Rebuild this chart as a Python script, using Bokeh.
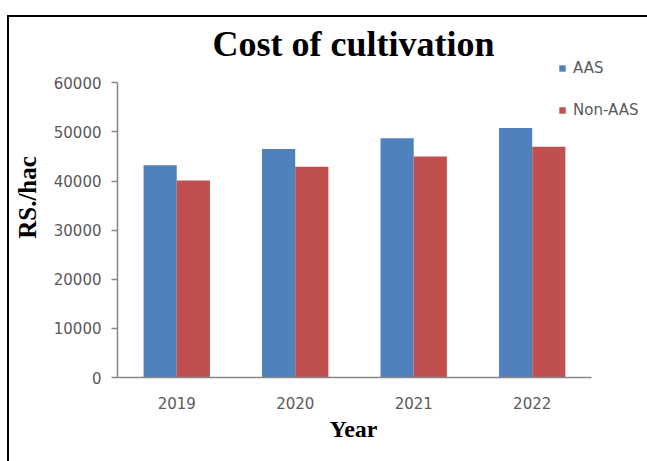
from bokeh.plotting import figure
from bokeh.models import (ColumnDataSource, Range1d, FixedTicker, Legend,
                          LegendItem, Label, Title)
from bokeh.embed import file_html
from bokeh.resources import INLINE

# Cost of cultivation per hectare, by year
years = ["2019", "2020", "2021", "2022"]
aas = [43200, 46500, 48700, 50800]
non_aas = [40100, 42900, 45000, 47000]
y_ticks = [0, 10000, 20000, 30000, 40000, 50000, 60000]

BLUE = "#4F81BD"
RED = "#C0504D"
GREY_TEXT = "#595959"
AXIS_GREY = "#868686"

BAR_W = 0.28
slot = [i + 0.5 for i in range(len(years))]  # centre of each year's slot

source = ColumnDataSource(dict(
    x_aas=[s - BAR_W / 2 for s in slot],
    x_non=[s + BAR_W / 2 for s in slot],
    aas=aas, non_aas=non_aas,
))

# the plot area runs on past the last year to leave room for the legend;
# axis bounds keep the axis lines to the data extent
p = figure(
    x_range=Range1d(0, 4.49),
    y_range=Range1d(0, 73300),
    width=638, height=444,
    output_backend="svg", toolbar_location=None,
    min_border_left=108, min_border_right=0,
    min_border_top=0, min_border_bottom=86,
    margin=(15, 0, 0, 7),
)
p.styles = {"border-top": "2px solid black", "border-left": "2px solid black",
            "box-sizing": "content-box"}

r_aas = p.vbar(x="x_aas", top="aas", width=BAR_W, source=source,
               fill_color=BLUE, line_color=None)
r_non = p.vbar(x="x_non", top="non_aas", width=BAR_W, source=source,
               fill_color=RED, line_color=None)

p.xgrid.visible = False
p.ygrid.visible = False
p.outline_line_color = None

p.yaxis.ticker = FixedTicker(ticks=y_ticks)
p.yaxis.bounds = (0, 60000)
p.yaxis.axis_label = "RS./hac"
p.yaxis.axis_label_text_font = "Liberation Serif"
p.yaxis.axis_label_text_font_size = "25px"
p.yaxis.axis_label_text_font_style = "bold"
p.yaxis.axis_label_text_color = "black"
p.yaxis.axis_label_standoff = 10
p.yaxis.major_tick_out = 6
p.yaxis.major_tick_in = 0
p.yaxis.minor_tick_out = 0
p.yaxis.minor_tick_in = 0
p.yaxis.major_label_standoff = 10

p.xaxis.ticker = FixedTicker(ticks=slot)
p.xaxis.major_label_overrides = {s: y for s, y in zip(slot, years)}
p.xaxis.bounds = (0, len(years))
p.xaxis.major_tick_out = 0
p.xaxis.major_tick_in = 0
p.xaxis.minor_tick_out = 0
p.xaxis.minor_tick_in = 0
p.xaxis.major_label_standoff = 19

for ax in (p.xaxis, p.yaxis):
    ax.axis_line_color = AXIS_GREY
    ax.axis_line_width = 1.5
    ax.major_tick_line_color = AXIS_GREY
    ax.major_tick_line_width = 1.5
    ax.major_label_text_font = "DejaVu Sans"
    ax.major_label_text_font_size = "15px"
    ax.major_label_text_color = GREY_TEXT

# x-axis name, centred under the four years rather than the whole plot area
p.add_layout(Title(
    text="Year", align="left", offset=212, standoff=4,
    text_font="Liberation Serif", text_font_size="24px",
    text_font_style="bold", text_color="black",
), "below")

# chart heading, centred over the years
p.add_layout(Label(
    x=236, y=334, x_units="screen", y_units="screen",
    text="Cost of cultivation", text_align="center",
    text_baseline="alphabetic",
    text_font="Liberation Serif", text_font_size="36px",
    text_font_style="bold", text_color="black",
))

legend = Legend(
    items=[LegendItem(label="AAS", renderers=[r_aas]),
           LegendItem(label="Non-AAS", renderers=[r_non])],
    location=(441, 258),
    orientation="vertical",
    glyph_width=8, glyph_height=8,
    label_height=18, label_standoff=7,
    spacing=24, padding=0, margin=0,
    label_text_font="DejaVu Sans", label_text_font_size="15px",
    label_text_color=GREY_TEXT,
    border_line_color=None, background_fill_alpha=0,
)
p.add_layout(legend, "center")

open("out.html", "w").write(file_html(p, INLINE))
